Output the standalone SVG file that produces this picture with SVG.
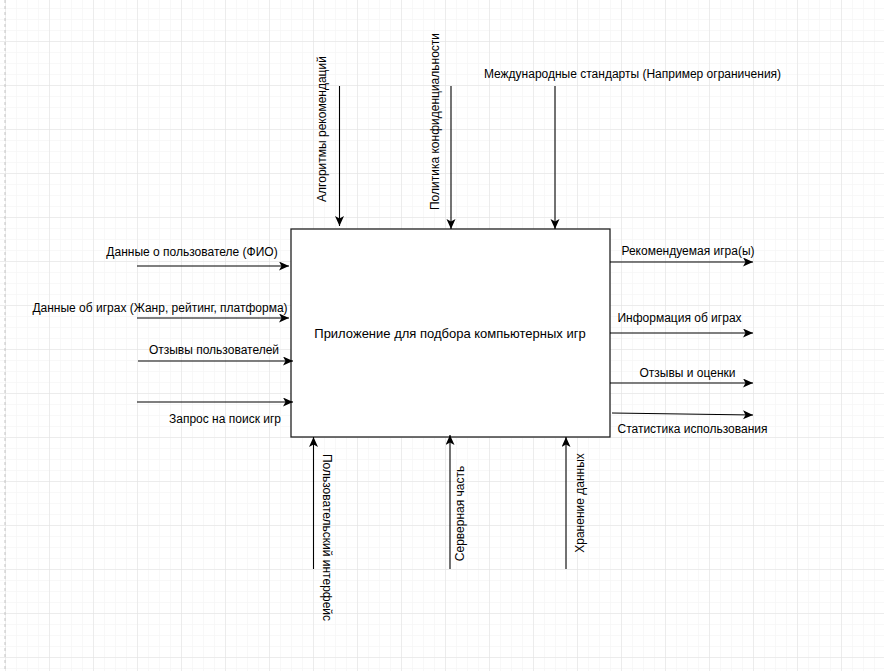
<svg xmlns="http://www.w3.org/2000/svg" width="884" height="671" viewBox="0 0 884 671">
<style>
  .lbl { font-family: "Liberation Sans", Arial, sans-serif; font-size: 12px; fill: #000; }
  .mid { text-anchor: middle; }
  .title { font-size: 13px; }
  .flow { stroke: #000; stroke-width: 1.1; fill: none; marker-end: url(#arrow); }
</style>
<defs>
  <pattern id="minor" patternUnits="userSpaceOnUse" x="5" y="8" width="11" height="11">
    <path d="M0,0 H11 M0,0 V11" stroke="#f2f2f2" stroke-width="1" fill="none"/>
  </pattern>
  <pattern id="major" patternUnits="userSpaceOnUse" x="5" y="41" width="44" height="44">
    <path d="M0,0 H44 M0,0 V44" stroke="#e0e0e0" stroke-width="1" fill="none"/>
  </pattern>
  <marker id="arrow" markerUnits="userSpaceOnUse" markerWidth="12" markerHeight="10" refX="10" refY="4.5" orient="auto">
    <path d="M0,0 L10,4.5 L0,9 L2.5,4.5 Z" fill="#000"/>
  </marker>
</defs>
<g id="background">
  <rect width="884" height="671" fill="#fff"/>
  <rect width="884" height="671" fill="url(#minor)"/>
  <rect width="884" height="671" fill="url(#major)"/>
  <line x1="5" y1="0" x2="5" y2="671" stroke="#c4c4c4" stroke-width="1" stroke-dasharray="3,3"/>
</g>
<g id="main">
  <rect x="291" y="229" width="319" height="208" fill="#fff" stroke="#222" stroke-width="1.3"/>
  <text class="lbl mid title" x="450" y="337.5">Приложение для подбора компьютерных игр</text>
</g>
<g id="connectors">
  <line class="flow" x1="339.5" y1="86" x2="339.5" y2="226"/>
  <line class="flow" x1="451" y1="86" x2="451" y2="229"/>
  <line class="flow" x1="555" y1="86" x2="555" y2="229"/>
  <line class="flow" x1="137" y1="266" x2="289" y2="266"/>
  <line class="flow" x1="137" y1="318" x2="289" y2="318"/>
  <line class="flow" x1="138" y1="361" x2="293" y2="361"/>
  <line class="flow" x1="137" y1="402" x2="293" y2="402"/>
  <line class="flow" x1="610" y1="262" x2="753" y2="262"/>
  <line class="flow" x1="610" y1="333" x2="753" y2="333"/>
  <line class="flow" x1="610" y1="383" x2="753" y2="383"/>
  <line class="flow" x1="612" y1="413" x2="753" y2="415"/>
  <line class="flow" x1="313.5" y1="569" x2="313.5" y2="437"/>
  <line class="flow" x1="450" y1="569" x2="450" y2="435"/>
  <line class="flow" x1="566" y1="569" x2="566" y2="437"/>
</g>
<g id="label-algorithms">
  <text class="lbl mid" transform="translate(326,129) rotate(-90)">Алгоритмы рекомендаций</text>
</g>
<g id="label-privacy">
  <text class="lbl mid" transform="translate(439,121.5) rotate(-90)">Политика конфиденциальности</text>
</g>
<g id="label-standards">
  <text class="lbl mid" x="632.5" y="78">Международные стандарты (Например ограничения)</text>
</g>
<g id="label-user-data">
  <text class="lbl mid" x="192" y="255.5">Данные о пользователе (ФИО)</text>
</g>
<g id="label-game-data">
  <text class="lbl mid" x="160" y="312">Данные об играх (Жанр, рейтинг, платформа)</text>
</g>
<g id="label-reviews-in">
  <text class="lbl mid" x="214" y="354">Отзывы пользователей</text>
</g>
<g id="label-search">
  <text class="lbl mid" x="225" y="423">Запрос на поиск игр</text>
</g>
<g id="label-recommended">
  <text class="lbl mid" x="688" y="255">Рекомендуемая игра(ы)</text>
</g>
<g id="label-game-info">
  <text class="lbl mid" x="679.5" y="322">Информация об играх</text>
</g>
<g id="label-reviews-out">
  <text class="lbl mid" x="687.5" y="377">Отзывы и оценки</text>
</g>
<g id="label-stats">
  <text class="lbl mid" x="692.5" y="433">Статистика использования</text>
</g>
<g id="label-ui">
  <text class="lbl mid" transform="translate(322.5,537.5) rotate(90)">Пользовательский интерфейс</text>
</g>
<g id="label-server">
  <text class="lbl mid" transform="translate(463.5,513.5) rotate(-90)">Серверная часть</text>
</g>
<g id="label-storage">
  <text class="lbl mid" transform="translate(583.5,503) rotate(-90)">Хранение данных</text>
</g>
</svg>
